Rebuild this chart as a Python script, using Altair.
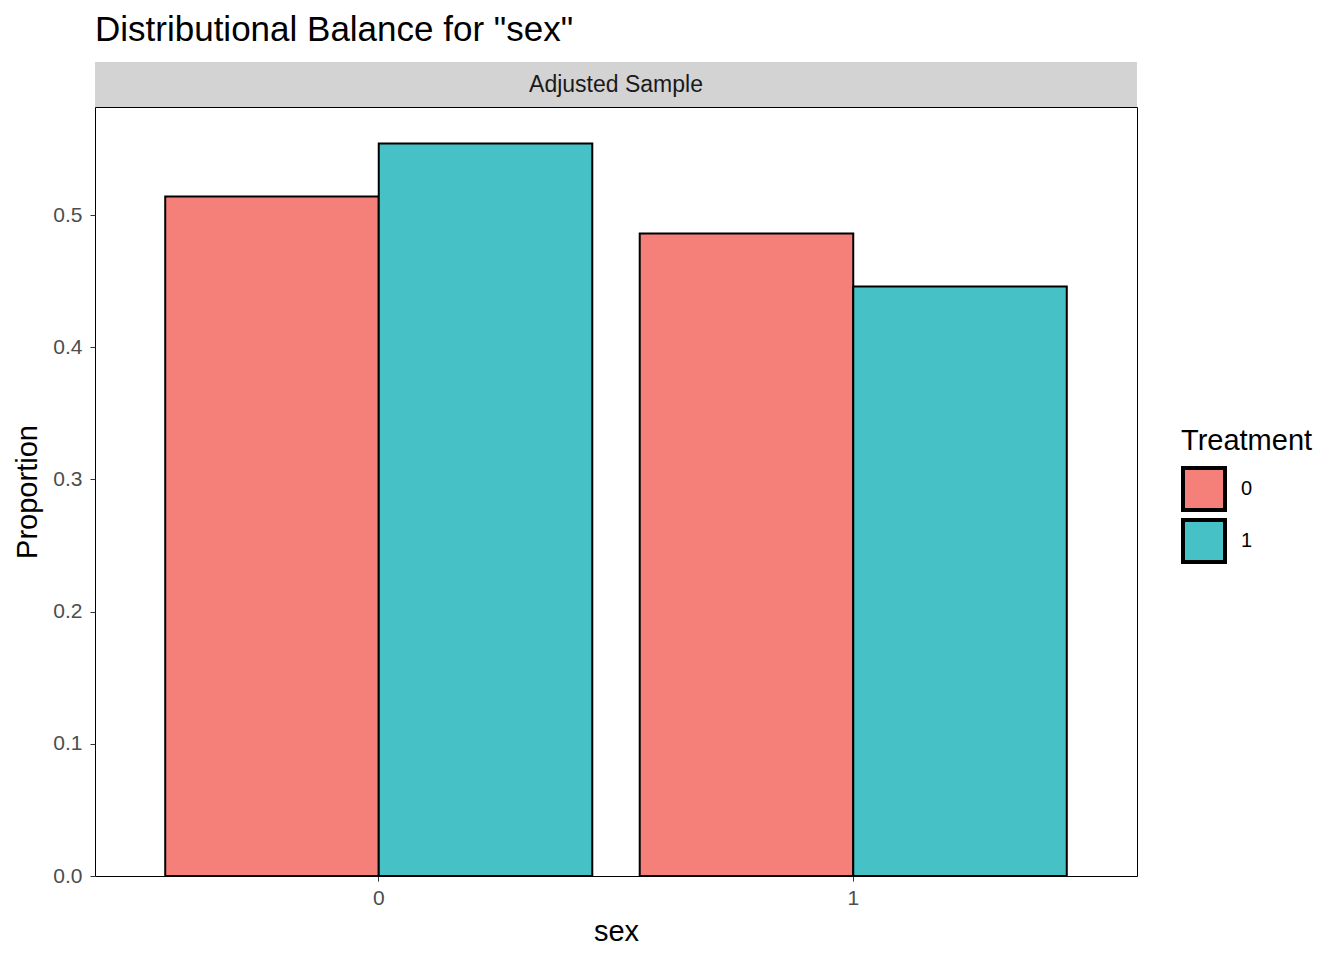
import altair as alt
import pandas as pd

# ---- data ----
sex = ["0", "0", "1", "1"]
treatment = ["0", "1", "0", "1"]
proportion = [0.514, 0.554, 0.486, 0.446]
treat_levels = ["0", "1"]
treat_colors = ["#F5807A", "#46C2C6"]
y_ticks = [0.0, 0.1, 0.2, 0.3, 0.4, 0.5]
strip_label = ["Adjusted Sample"]

df = pd.DataFrame({"sex": sex, "Treatment": treatment, "Proportion": proportion})
strip_df = pd.DataFrame({"label": strip_label})

W, H = 1042, 769
FONT = "Liberation Sans"
STRIP_H = 45

bars = alt.Chart(df).mark_bar(stroke="black", strokeWidth=2).encode(
    x=alt.X(
        "sex:N",
        title="sex",
        scale=alt.Scale(paddingInner=0.1, paddingOuter=0.148),
        axis=alt.Axis(labelAngle=0, labelFontSize=21, labelColor="#4D4D4D",
                      labelPadding=6, tickColor="#333333", tickSize=5,
                      domain=False, titleFontSize=29, titleColor="black",
                      titleFontWeight="normal", titlePadding=9),
    ),
    xOffset=alt.XOffset("Treatment:N", sort=treat_levels),
    y=alt.Y(
        "Proportion:Q",
        title="Proportion",
        scale=alt.Scale(domain=[0, 0.5817], nice=False, zero=True),
        axis=alt.Axis(values=y_ticks, format=".1f", labelFontSize=21,
                      labelColor="#4D4D4D", labelPadding=8, tickColor="#333333",
                      tickSize=5, domain=False, grid=False, titleFontSize=29,
                      titleColor="black", titleFontWeight="normal", titlePadding=10),
    ),
    fill=alt.Fill(
        "Treatment:N",
        scale=alt.Scale(domain=treat_levels, range=treat_colors),
        legend=alt.Legend(
            title="Treatment", orient="none", legendX=1086, legendY=320,
            titleFontSize=29, titleFontWeight="normal", titleColor="black",
            titlePadding=10, symbolType="square", symbolSize=1764,
            symbolStrokeColor="black", symbolStrokeWidth=4,
            labelFontSize=20, labelColor="black", labelOffset=14, rowPadding=-15,
        ),
    ),
)

strip_bg = alt.Chart(strip_df).mark_rect(fill="#D3D3D3").encode(
    x=alt.value(0), x2=alt.value(W), y=alt.value(-STRIP_H), y2=alt.value(0)
)
strip_text = alt.Chart(strip_df).mark_text(fontSize=23, color="#1A1A1A", font=FONT).encode(
    text="label:N", x=alt.value(W / 2), y=alt.value(-STRIP_H / 2)
)

chart = alt.layer(strip_bg, strip_text, bars).properties(
    width=W, height=H,
    title=alt.TitleParams('Distributional Balance for "sex"', anchor="start",
                          frame="group", fontSize=35, fontWeight="normal",
                          color="black", font=FONT, offset=14),
).configure(font=FONT).configure_view(
    stroke="black", strokeWidth=1
).configure_axis(labelFont=FONT, titleFont=FONT).configure_legend(
    labelFont=FONT, titleFont=FONT
)

chart.save("out.html", embed_options={"renderer": "svg", "actions": False})
